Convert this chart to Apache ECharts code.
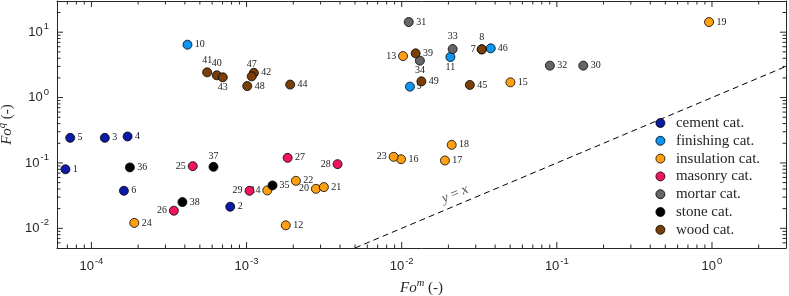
<!DOCTYPE html>
<html><head><meta charset="utf-8">
<script src="https://cdn.jsdelivr.net/npm/echarts@6/dist/echarts.min.js"></script>
<style>html,body{margin:0;padding:0;background:#fff}#c{width:789px;height:296px}#err{position:absolute;left:300px;top:40px;font:10px sans-serif;color:red}</style>
</head><body><div id="c"></div><div id="err"></div>
<script>
window.onerror = function (m) { document.getElementById('err').textContent += ' ERR:' + m; };
// ---------- data ----------
const categories = ['cement cat.', 'finishing cat.', 'insulation cat.', 'masonry cat.', 'mortar cat.', 'stone cat.', 'wood cat.'];

const cementIds = [1, 2, 3, 4, 5, 6];
const cementFoM = [6.8e-5, 7.85e-4, 1.22e-4, 1.71e-4, 7.3e-5, 1.62e-4];
const cementFoQ = [0.080, 0.0214, 0.242, 0.254, 0.242, 0.0375];

const finishingIds = [9, 10, 11, 46];
const finishingFoM = [0.0113, 4.16e-4, 0.0206, 0.0375];
const finishingFoQ = [1.47, 6.44, 4.17, 5.66];

const insulationIds = [12, 13, 14, 15, 16, 17, 18, 19, 20, 21, 22, 23, 24];
const insulationFoM = [1.79e-3, 0.0102, 1.36e-3, 0.0502, 9.9e-3, 0.019, 0.021, 0.957, 2.80e-3, 3.15e-3, 2.08e-3, 8.87e-3, 1.89e-4];
const insulationFoQ = [0.0111, 4.31, 0.038, 1.71, 0.114, 0.109, 0.189, 14.3, 0.0402, 0.0427, 0.0533, 0.124, 0.0121];

const masonryIds = [25, 26, 27, 28, 29];
const masonryFoM = [4.5e-4, 3.4e-4, 1.84e-3, 3.86e-3, 1.045e-3];
const masonryFoQ = [0.0893, 0.0186, 0.1197, 0.0959, 0.0375];

const mortarIds = [30, 31, 32, 33, 34];
const mortarFoM = [0.148, 0.0111, 0.0902, 0.0213, 0.0131];
const mortarFoQ = [3.08, 14.3, 3.08, 5.52, 3.67];

const stoneIds = [35, 36, 37, 38];
const stoneFoM = [1.47e-3, 1.77e-4, 6.12e-4, 3.86e-4];
const stoneFoQ = [0.0453, 0.0854, 0.0872, 0.0252];

const woodIds = [7, 8, 39, 40, 41, 42, 43, 44, 45, 47, 48, 49];
const woodFoM = [0.0328, 0.0328, 0.0123, 6.43e-4, 5.57e-4, 1.115e-3, 7.03e-4, 1.91e-3, 0.0275, 1.08e-3, 1.01e-3, 0.0134];
const woodFoQ = [5.46, 5.46, 4.75, 2.19, 2.43, 2.39, 2.04, 1.58, 1.56, 2.11, 1.50, 1.77];

const xRange = [6e-5, 3];
const yRange = [5e-3, 30];
const xTickValues = [1e-4, 1e-3, 1e-2, 1e-1, 1];
const yTickValues = [1e-2, 1e-1, 1, 10];
const refLine = [5e-3, 3];
const refLabelAt = 0.0248;

// ---------- style ----------
const colors = ['#0c1aa6', '#0a96f2', '#ffa012', '#ef1560', '#666666', '#000000', '#7a3f06'];
const ink = '#262626';
const serif = 'Liberation Serif';
const sans = 'Liberation Sans';

// label placement per point id: [position, offset, distance]
const labelPlace = {
  25: ['left', [0, -1], 2], 26: ['left', [0, -1], 2], 29: ['left', [0, -1], 2], 28: ['left', [0, -1], 2],
  14: ['left', [2, -8], 2], 35: ['right', [-1, -7], 2], 20: ['left', [6, 8], 2], 23: ['left', [2, 6], 2],
  37: ['top', [0, 0], 1], 41: ['top', [-2, 0], 2], 40: ['top', [4, 0], 2], 43: ['bottom', [6, -2], 0],
  47: ['top', [0, 0], 2], 13: ['left', [0, -1], 2], 34: ['bottom', [-10, -4], 0], 33: ['top', [0, 0], 3],
  11: ['bottom', [6, -1], 0], 9: ['right', [-3, 4], 2], 7: ['left', [1, -1], 1], 8: ['top', [-5, 1], 2],
  46: ['right', [-2, -3], 2]
};

function buildData(ids, xs, ys) {
  return ids.map((id, i) => {
    const p = labelPlace[id] || ['right', [0, -3], 2.5];
    return {
      value: [xs[i], ys[i]],
      name: String(id),
      label: { position: p[0], offset: p[1], distance: p[2] }
    };
  });
}

const groups = [
  [cementIds, cementFoM, cementFoQ],
  [finishingIds, finishingFoM, finishingFoQ],
  [insulationIds, insulationFoM, insulationFoQ],
  [masonryIds, masonryFoM, masonryFoQ],
  [mortarIds, mortarFoM, mortarFoQ],
  [stoneIds, stoneFoM, stoneFoQ],
  [woodIds, woodFoM, woodFoQ]
];

function powLabel(v) {
  const e = Math.log10(v), r = Math.round(e);
  if (Math.abs(e - r) > 1e-6) return '';
  return '{b|10}{s|' + r + '}';
}
function tickRich() {
  return {
    b: { fontSize: 13, fontFamily: sans, color: ink },
    s: { fontSize: 9.5, fontFamily: sans, color: ink, padding: [0, 0, 11, 1] }
  };
}

function minors(lo, hi) {
  const out = [];
  for (let e = Math.floor(Math.log10(lo)); e <= Math.ceil(Math.log10(hi)); e++) {
    for (let k = 2; k <= 9; k++) {
      const v = k * Math.pow(10, e);
      if (v > lo * 1.0001 && v < hi * 0.9999) out.push(v);
    }
  }
  return out;
}
const xMinor = minors(xRange[0], xRange[1]);
const yMinor = minors(yRange[0], yRange[1]);

const series = groups.map((g, i) => ({
  type: 'scatter',
  name: categories[i],
  xAxisIndex: 0, yAxisIndex: 0,
  data: buildData(g[0], g[1], g[2]),
  symbol: 'circle',
  symbolSize: 9,
  itemStyle: { color: colors[i], borderColor: '#000', borderWidth: 0.8, opacity: 1 },
  label: {
    show: true, formatter: '{b}', fontFamily: serif, fontSize: 10, color: '#1a1a1a'
  },
  labelLayout: { hideOverlap: false },
  emphasis: { disabled: true },
  z: 3 + i
}));

series.push({
  type: 'line',
  name: 'y=x',
  xAxisIndex: 0, yAxisIndex: 0,
  data: [[refLine[0], refLine[0]], [refLine[1], refLine[1]]],
  symbol: 'none',
  lineStyle: { color: '#000', width: 1, type: [6, 4] },
  clip: true,
  z: 2
});
series.push({
  type: 'scatter',
  name: 'yxlabel',
  xAxisIndex: 0, yAxisIndex: 0,
  data: [[refLabelAt, refLabelAt]],
  symbolSize: 0,
  label: {
    show: true, position: 'inside', rotate: 23, offset: [-4, -11],
    formatter: '{i|y} = {i|x}',
    rich: { i: { fontStyle: 'italic', fontFamily: serif, fontSize: 14, color: ink } },
    fontFamily: serif, fontSize: 14, color: ink
  },
  z: 2
});

// MATLAB-style inside ticks on all four sides, drawn as thin rect symbols through the axes' scales
function tickSeries(points, size, offset) {
  return {
    type: 'scatter', name: 'tick', xAxisIndex: 0, yAxisIndex: 0,
    data: points, symbol: 'rect', symbolSize: size, symbolOffset: offset,
    itemStyle: { color: ink, borderWidth: 0, opacity: 1 },
    clip: false, silent: true, emphasis: { disabled: true }, z: 20
  };
}
const MAJ = 6, MIN = 3.5;
series.push(tickSeries(xTickValues.map(v => [v, yRange[0]]), [1, MAJ], [0, -MAJ / 2]));
series.push(tickSeries(xMinor.map(v => [v, yRange[0]]), [1, MIN], [0, -MIN / 2]));
series.push(tickSeries(xTickValues.map(v => [v, yRange[1]]), [1, MAJ], [0, MAJ / 2]));
series.push(tickSeries(xMinor.map(v => [v, yRange[1]]), [1, MIN], [0, MIN / 2]));
series.push(tickSeries(yTickValues.map(v => [xRange[0], v]), [MAJ, 1], [MAJ / 2, 0]));
series.push(tickSeries(yMinor.map(v => [xRange[0], v]), [MIN, 1], [MIN / 2, 0]));
series.push(tickSeries(yTickValues.map(v => [xRange[1], v]), [MAJ, 1], [-MAJ / 2, 0]));
series.push(tickSeries(yMinor.map(v => [xRange[1], v]), [MIN, 1], [-MIN / 2, 0]));

function nameRich() {
  return {
    i: { fontFamily: serif, fontStyle: 'italic', fontSize: 15, color: ink },
    sup: { fontFamily: serif, fontStyle: 'italic', fontSize: 10.5, color: ink, padding: [0, 0, 9, 0] },
    n: { fontFamily: serif, fontSize: 15, color: ink }
  };
}

const ls = () => ({ color: ink, width: 1 });

function boxAxis(range, position) {
  return {
    type: 'log', logBase: 10, min: range[0], max: range[1], gridIndex: 0, position: position,
    axisLine: { show: true, lineStyle: ls() }, splitLine: { show: false }, minorTick: { show: false },
    axisLabel: { show: false }, axisTick: { show: false }
  };
}

try {
  const chart = echarts.init(document.getElementById('c'));
  chart.setOption({
    animation: false,
    grid: { left: 57, right: 3, top: 1, bottom: 48, outerBoundsMode: 'none' },
    xAxis: [
      {
        type: 'log', logBase: 10, min: xRange[0], max: xRange[1], position: 'bottom',
        axisLine: { show: true, lineStyle: ls() }, splitLine: { show: false }, minorTick: { show: false },
        axisTick: { show: false },
        axisLabel: { formatter: powLabel, rich: tickRich(), margin: 8, customValues: xTickValues.slice() },
        name: '{i|Fo}{sup|m}{n| (-)}', nameLocation: 'middle', nameGap: 27,
        nameTextStyle: { rich: nameRich() }
      },
      boxAxis(xRange, 'top')
    ],
    yAxis: [
      {
        type: 'log', logBase: 10, min: yRange[0], max: yRange[1], position: 'left',
        axisLine: { show: true, lineStyle: ls() }, splitLine: { show: false }, minorTick: { show: false },
        axisTick: { show: false },
        axisLabel: { formatter: powLabel, rich: tickRich(), margin: 8, customValues: yTickValues.slice() },
        name: '{i|Fo}{sup|q}{n| (-)}', nameLocation: 'middle', nameGap: 33,
        nameTextStyle: { rich: nameRich() }
      },
      boxAxis(yRange, 'right')
    ],
    legend: {
      data: categories,
      orient: 'vertical',
      left: 655.5, top: 115.5,
      padding: 0,
      itemWidth: 21, itemHeight: 9, itemGap: 2.8,
      icon: 'circle',
      itemStyle: { borderColor: '#000', borderWidth: 0.8 },
      textStyle: { fontFamily: serif, fontSize: 15, color: ink },
      selectedMode: false
    },
    series: series
  });
} catch (e) {
  document.getElementById('err').textContent += ' CATCH:' + e.message;
}
</script></body></html>
